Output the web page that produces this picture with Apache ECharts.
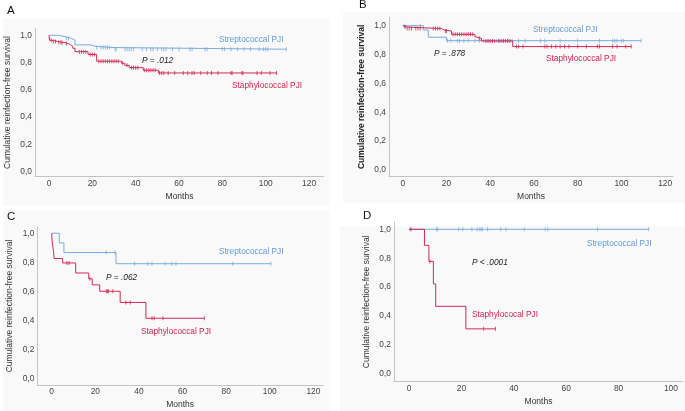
<!DOCTYPE html>
<html><head><meta charset="utf-8">
<script src="https://cdn.jsdelivr.net/npm/echarts@6/dist/echarts.min.js"></script>
<style>html,body{margin:0;padding:0;background:#fff}#c{width:685px;height:411px}</style>
</head><body><div id="c"></div>
<script>
// ---- Data (months, survival) ----
const xTicksA = [0, 20, 40, 60, 80, 100, 120];
const xTicksD = [0, 20, 40, 60, 80, 100];
const yTicks = [0, 0.2, 0.4, 0.6, 0.8, 1.0];

const aStrepTimes = [0, 4.3, 8, 10.5, 12, 19, 21, 30];
const aStrepSurv  = [1, 0.988, 0.976, 0.964, 0.93, 0.92, 0.91, 0.898];
const aStrepCens  = [8, 9, 22, 24, 25, 26, 27, 28, 30.5, 31, 35, 36, 37, 38, 39, 43, 45, 47, 48, 50, 52, 53, 54, 57, 60, 65, 66, 72, 73, 80, 81, 84, 87, 90, 93, 97, 99, 100, 101, 109.5];
const aStaphTimes = [0, 0.3, 2, 4, 7, 9, 10, 11, 12, 18, 22, 33.5, 35, 37, 43.5, 50.5];
const aStaphSurv  = [1, 0.963, 0.955, 0.947, 0.94, 0.93, 0.92, 0.905, 0.88, 0.86, 0.81, 0.795, 0.78, 0.763, 0.744, 0.724];
const aStaphCens  = [1, 2, 3, 4.5, 5.5, 6, 8, 14, 15, 16, 17, 19, 20, 21, 23, 24, 25, 26, 27, 28, 29, 30, 31, 32, 34, 36, 38, 39, 40, 41, 44, 45, 46, 47, 48, 49, 51, 52, 53, 55, 58, 62, 64, 66, 67, 70, 73, 75, 78, 84, 84.5, 89, 89.5, 96, 98, 102, 105];

const bStrepTimes = [0, 9.4, 11.7, 20];
const bStrepSurv  = [1, 0.97, 0.92, 0.896];
const bStrepCens  = [1, 8, 20.5, 22, 25, 26, 28, 30, 33, 35, 37, 39, 41, 43, 44, 46, 48, 50, 53, 56, 63, 65, 72, 80, 90, 96, 97, 98, 100, 101, 109];
const bStaphTimes = [0, 0.5, 2, 17.7, 19, 22.3, 33, 33.8, 36, 50.3];
const bStaphSurv  = [1, 0.99, 0.98, 0.97, 0.963, 0.94, 0.924, 0.912, 0.894, 0.855];
const bStaphCens  = [1, 2, 3, 4, 6, 7, 8, 14, 15, 16, 17, 19.5, 20, 23, 24, 25, 26, 27, 28, 29, 30, 31, 32, 35, 38, 39, 40, 41, 42, 44, 45, 46, 47, 48, 49, 52, 53, 55, 65, 66, 68, 70, 72, 74, 76, 80, 84, 89, 90, 96, 98, 102, 104.5];

const cStrepTimes = [0, 3.5, 5.6, 29.5];
const cStrepSurv  = [1, 0.933, 0.867, 0.79];
const cStrepCens  = [25, 29, 38, 44, 46, 52, 55, 57, 83, 100.5];
const cStaphTimes = [0, 0.1, 0.3, 0.6, 0.9, 1.1, 5, 11, 17, 18.6, 22, 31.4, 43.2];
const cStaphSurv  = [1, 0.967, 0.933, 0.9, 0.867, 0.826, 0.795, 0.726, 0.686, 0.644, 0.6, 0.523, 0.414];
const cStaphCens  = [7, 8, 17.5, 25, 25.5, 26, 28, 34, 36, 46, 47, 51, 70];

const dStrepTimes = [0];
const dStrepSurv  = [1];
const dStrepCens  = [1, 10.5, 11, 19, 20.5, 24, 26, 27, 27.5, 28, 30, 35, 37, 44, 52, 53, 72, 91.5];
const dStaphTimes = [0, 5.9, 7.6, 9.3, 10.2, 21.7];
const dStaphSurv  = [1, 0.889, 0.778, 0.622, 0.467, 0.311];
const dStaphCens  = [0.5, 8, 28.5, 33];

const panelLetters = ['A', 'B', 'C', 'D'];
const strepLabel = 'Streptococcal PJI';
const staphLabels = ['Staphylococcal PJI', 'Staphylococcal PJI', 'Staphylococcal PJI', 'Staphylococal PJI'];
const pLabels = ['P = .012', 'P = .878', 'P = .062', 'P < .0001'];
const xTitle = 'Months';
const yTitle = 'Cumulative reinfection-free survival';

// ---- Layout / style ----
const BLUE = '#78acde', RED = '#cf2a57';
const BLUE_T = '#5f9bd6', RED_T = '#cf2450';
const FONT = '"Liberation Sans", Arial, sans-serif';
const panels = [
  {data:[aStrepTimes,aStrepSurv,aStrepCens,aStaphTimes,aStaphSurv,aStaphCens], xt:xTicksA,
   grid:{left:35, top:28.5, width:289, height:148.2}, xr:[-6.46,126.9], yr:[-0.0367,1.05], bold:false,
   bg:[3,18,327,188], letter:[7,11], strep:[219,40], p:[142,61], staph:[232,86]},
  {data:[bStrepTimes,bStrepSurv,bStrepCens,bStaphTimes,bStaphSurv,bStaphCens], xt:xTicksA,
   grid:{left:389, top:17, width:284, height:159.7}, xr:[-6.27,123.6], yr:[-0.0464,1.06], bold:true,
   bg:[343,12,342,191], letter:[359,5], strep:[533,30], p:[434,54], staph:[546,59]},
  {data:[cStrepTimes,cStrepSurv,cStrepCens,cStaphTimes,cStaphSurv,cStaphCens], xt:xTicksA,
   grid:{left:37.3, top:227, width:285.7, height:158}, xr:[-6.6,124.4], yr:[-0.046,1.043], bold:false,
   bg:[3,210,327,201], letter:[7,217], strep:[219,252], p:[106,278], staph:[141,332]},
  {data:[dStrepTimes,dStrepSurv,dStrepCens,dStaphTimes,dStaphSurv,dStaphCens], xt:xTicksD,
   grid:{left:394, top:222, width:289, height:159.7}, xr:[-5.73,104.6], yr:[-0.0547,1.0505], bold:false,
   bg:[340,226,345,185], letter:[363,216], strep:[587,244], p:[472,263], staph:[472,315]}
];

function survAt(times, surv, t) {
  let s = surv[0];
  for (let i = 0; i < times.length; i++) if (times[i] <= t) s = surv[i];
  return s;
}
function curve(times, surv, cens) {
  const pts = times.map((t, i) => [t, surv[i]]);
  const end = Math.max(times[times.length - 1], cens.length ? Math.max(...cens) : 0);
  pts.push([end, surv[surv.length - 1]]);
  return pts;
}
function censPts(times, surv, cens) { return cens.map(t => [t, survAt(times, surv, t)]); }

const grids = [], xAxes = [], yAxes = [], series = [], graphics = [];
panels.forEach((p, i) => {
  graphics.push({type:'rect', z:-10, shape:{x:p.bg[0], y:p.bg[1], width:p.bg[2], height:p.bg[3]}, style:{fill:'#f9f9f9'}});
  graphics.push({type:'text', x:p.letter[0], y:p.letter[1], style:{text:panelLetters[i], fill:'#111', fontSize:11.5, fontFamily:FONT, verticalAlign:'middle'}});
  graphics.push({type:'text', x:p.strep[0], y:p.strep[1], style:{text:strepLabel, fill:BLUE_T, fontSize:8.3, fontFamily:FONT, verticalAlign:'middle'}});
  graphics.push({type:'text', x:p.staph[0], y:p.staph[1], style:{text:staphLabels[i], fill:RED_T, fontSize:8.3, fontFamily:FONT, verticalAlign:'middle'}});
  graphics.push({type:'text', x:p.p[0], y:p.p[1], style:{text:pLabels[i], fill:'#222', fontSize:8.3, fontStyle:'italic', fontFamily:FONT, verticalAlign:'middle'}});
  grids.push(Object.assign({containLabel:false}, p.grid));
  xAxes.push({type:'value', gridIndex:i, min:p.xr[0], max:p.xr[1],
    name:xTitle, nameLocation:'middle', nameGap:15,
    nameTextStyle:{fontSize:8.5, color:'#333', fontFamily:FONT},
    axisLine:{show:true, onZero:false, lineStyle:{color:'#c4c4c4', width:1}},
    axisTick:{show:false}, splitLine:{show:false},
    axisLabel:{customValues:p.xt, color:'#444', fontSize:8.4, fontFamily:FONT, margin:3}});
  yAxes.push({type:'value', gridIndex:i, min:p.yr[0], max:p.yr[1],
    name:yTitle, nameLocation:'middle', nameGap:23,
    nameTextStyle:{fontSize:8.5, color:p.bold?'#222':'#333', fontWeight:p.bold?'bold':'normal', fontFamily:FONT},
    axisLine:{show:true, onZero:false, lineStyle:{color:'#c4c4c4', width:1}},
    axisTick:{show:false}, splitLine:{show:false},
    axisLabel:{customValues:yTicks, color:'#444', fontSize:8.4, fontFamily:FONT, margin:3,
      formatter: v => v.toFixed(1).replace('.', ',')}});
  const [st, ss, sc, pt, ps, pc] = p.data;
  series.push({type:'line', xAxisIndex:i, yAxisIndex:i, step:'end', showSymbol:false, symbol:'none',
    data:curve(st, ss, sc), lineStyle:{color:BLUE, width:1}, silent:true, z:2});
  series.push({type:'line', xAxisIndex:i, yAxisIndex:i, step:'end', showSymbol:false, symbol:'none',
    data:curve(pt, ps, pc), lineStyle:{color:RED, width:1}, silent:true, z:3});
  series.push({type:'scatter', xAxisIndex:i, yAxisIndex:i, symbol:'rect', symbolSize:[1,4],
    data:censPts(st, ss, sc), itemStyle:{color:BLUE}, silent:true, z:2});
  series.push({type:'scatter', xAxisIndex:i, yAxisIndex:i, symbol:'rect', symbolSize:[1,4],
    data:censPts(pt, ps, pc), itemStyle:{color:RED}, silent:true, z:3});
});

const chart = echarts.init(document.getElementById('c'), null, {renderer:'canvas'});
chart.setOption({animation:false, backgroundColor:'#ffffff', grid:grids, xAxis:xAxes, yAxis:yAxes, series:series, graphic:graphics});
</script></body></html>
